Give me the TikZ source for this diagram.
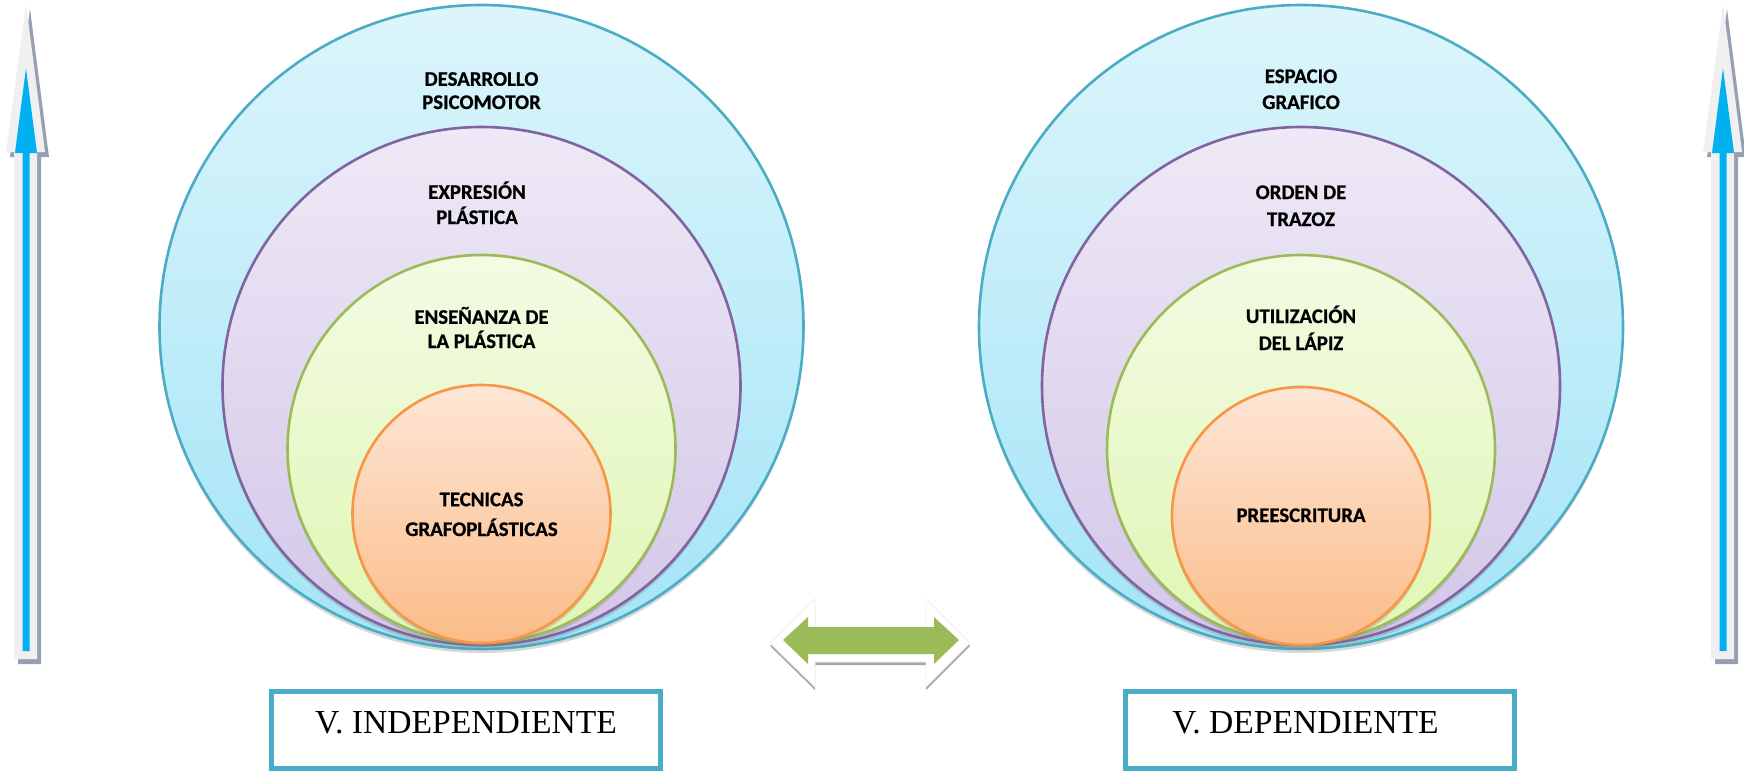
\documentclass[tikz,border=0pt]{standalone}
\usepackage{fontspec}
\setmainfont{Liberation Serif}
\newfontfamily\ringfont{Carlito}[UprightFont={Carlito Bold}, FakeBold=0.6]
\usetikzlibrary{shadows}
\definecolor{edgeblue}{HTML}{4BACC6}
\definecolor{edgepurple}{HTML}{8064A2}
\definecolor{edgegreen}{HTML}{9BBB59}
\definecolor{edgeorange}{HTML}{F79646}
\definecolor{blueup}{HTML}{DCF5FB}
\definecolor{bluedown}{HTML}{A3E4F7}
\definecolor{purpleup}{HTML}{EEE9F6}
\definecolor{purpledown}{HTML}{D3C6E8}
\definecolor{greenup}{HTML}{F3FBE4}
\definecolor{greendown}{HTML}{E0F6B3}
\definecolor{orangeup}{HTML}{FDE6D6}
\definecolor{orangedown}{HTML}{FBBC88}
\definecolor{arrowblue}{HTML}{00B0F0}
\definecolor{arrowlight}{HTML}{F0F0F0}
\definecolor{arrowshadow}{HTML}{97A0B3}
\tikzset{
	ring/.style={line width=1.3pt, drop shadow={shadow xshift=0pt, shadow yshift=-2pt, opacity=0.3}},
	ringtxt/.style={anchor=base, align=center, inner sep=0pt, font=\ringfont\fontsize{10.4}{11}\selectfont},
	varbox/.style={draw=edgeblue, line width=2.5pt, minimum width=194.5pt, minimum height=38.5pt},
	vartxt/.style={anchor=base, inner sep=0pt, font=\fontsize{16.8}{18}\selectfont},
}
\begin{document}
\begin{tikzpicture}[x=0.5pt,y=-0.5pt]
		\useasboundingbox (0,0) rectangle (1744,772);
		% centres of the rings
		\draw (481.5,327) node[](l-1){} (481.5,386) node[](l-2){} (481.5,449) node[](l-3){} (481.5,514) node[](l-4){};
		\draw (1301,327) node[](r-1){} (1301,386) node[](r-2){} (1301,449) node[](r-3){} (1301,516) node[](r-4){};
		\foreach \s in {l,r}{
			\draw[ring, draw=edgeblue, top color=blueup, bottom color=bluedown] (\s-1) circle (322);
			\draw[ring, draw=edgepurple, top color=purpleup, bottom color=purpledown] (\s-2) circle (259);
			\draw[ring, draw=edgegreen, top color=greenup, bottom color=greendown] (\s-3) circle (194);
			\draw[ring, draw=edgeorange, top color=orangeup, bottom color=orangedown] (\s-4) circle (129);
		}
		\draw (481.5,109) node[ringtxt](l-t1){DESARROLLO\\[0.6pt]PSICOMOTOR};
		\draw (477,224) node[ringtxt](l-t2){EXPRESIÓN\\[1.6pt]PLÁSTICA};
		\draw (481.5,348) node[ringtxt](l-t3){ENSEÑANZA DE\\[1.1pt]LA PLÁSTICA};
		\draw (481.5,536) node[ringtxt](l-t4){TECNICAS\\[3.9pt]GRAFOPLÁSTICAS};
		\draw (1301,109) node[ringtxt](r-t1){ESPACIO\\[2pt]GRAFICO};
		\draw (1301,226) node[ringtxt](r-t2){ORDEN DE\\[2.5pt]TRAZOZ};
		\draw (1301,350) node[ringtxt](r-t3){UTILIZACIÓN\\[2.5pt]DEL LÁPIZ};
		\draw (1301,522) node[ringtxt](r-t4){PREESCRITURA};
		% upward arrows at both sides
		\foreach \a in {26,1723}{
			\fill[arrowshadow] (\a+4,9) -- (\a+23,157) -- (\a+15,157) -- (\a+15,664) -- (\a-8,664) -- (\a-8,157) -- (\a-16,157) -- cycle;
			\fill[arrowlight] (\a,4) -- (\a+19,152) -- (\a+11,152) -- (\a+11,659) -- (\a-12,659) -- (\a-12,152) -- (\a-20,152) -- cycle;
			\fill[arrowblue] (\a,68) -- (\a+11,153) -- (\a+3.5,153) -- (\a+3.5,651) -- (\a-3.5,651) -- (\a-3.5,153) -- (\a-11,153) -- cycle;
		}
		% two-way arrow
		\fill[black!35] (770,646) -- (815,602) -- (815,630) -- (926,630) -- (926,602) -- (970,646) -- (926,690) -- (926,665) -- (815,665) -- (815,690) -- cycle;
		\filldraw[fill=white, draw=black!7] (770,643) -- (815,599) -- (815,627) -- (926,627) -- (926,599) -- (970,643) -- (926,687) -- (926,662) -- (815,662) -- (815,687) -- cycle;
		\fill[edgegreen] (783,640) -- (808,617) -- (808,627) -- (934,627) -- (934,617) -- (959,640) -- (934,664) -- (934,654) -- (808,654) -- (808,664) -- cycle;
		% variable boxes
		\node[varbox](v-1) at (466,730){};
		\node[varbox](v-2) at (1320,730){};
		\draw (466,733) node[vartxt](v-t1){V. INDEPENDIENTE};
		\draw (1305.5,733) node[vartxt](v-t2){V. DEPENDIENTE};
	\end{tikzpicture}
\end{document}
